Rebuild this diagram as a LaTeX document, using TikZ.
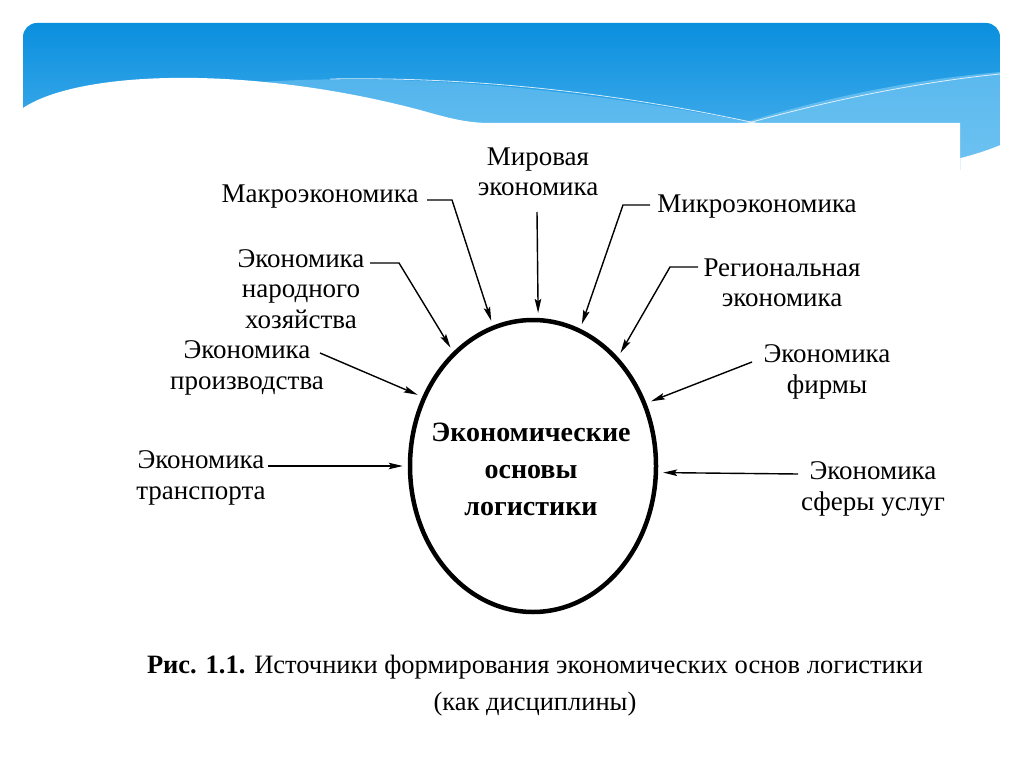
\documentclass[tikz,border=0pt]{standalone}
\usepackage{fontspec}
\setmainfont{Liberation Serif}
\usetikzlibrary{arrows.meta,shapes.geometric}
\definecolor{bTop}{RGB}{10,143,222}
\definecolor{bBot}{RGB}{80,180,238}
\definecolor{bLight}{RGB}{130,205,245}
\begin{document}
\begin{tikzpicture}[x=1pt,y=-1pt,
  lab/.style={font=\fontsize{27}{30.5}\selectfont, align=center, inner sep=1pt},
  arr/.style={line width=1.4pt, -{Stealth[length=14pt,width=6.5pt,inset=2.5pt]}, shorten >=5pt},
  wline/.style={white, opacity=0.8, line width=0.8pt}]
\useasboundingbox (0,0) rectangle (1024,767);
% header banner
\begin{scope}
\clip[rounded corners=14pt] (23,170) -- (23,23) -- (1000,23) [sharp corners] -- (1000,145) .. controls (985,151) and (972,155) .. (960,158) -- (960,170) -- cycle;
\shade[top color=bTop, bottom color=bBot] (23,23) rectangle (1000,170);
\fill[bLight, opacity=0.5] (260,82) .. controls (450,70) and (640,100) .. (780,128) -- (260,128) -- cycle;
\fill[bLight, opacity=0.6] (720,130) .. controls (820,98) and (910,80) .. (1000,72) -- (1000,170) -- (720,170) -- cycle;
\draw[wline] (330,79) .. controls (500,76) and (650,100) .. (760,124);
\draw[wline] (745,124) .. controls (830,100) and (920,82) .. (1000,74);
\fill[white] (23,108) .. controls (80,70) and (250,65) .. (420,110) .. controls (445,117) and (465,123) .. (490,123) -- (960,123) -- (960,170) -- (23,170) -- cycle;
\end{scope}
% central ellipse
\node[draw, ellipse, line width=4.5pt, minimum width=246pt, minimum height=292pt, inner sep=0pt] (E) at (533,466) {};
\node[font=\bfseries\fontsize{28}{37}\selectfont, align=center, inner sep=0pt] (Etxt) at (531,469) {Экономические\\основы\\логистики};
% labels
\node[lab] (mir) at (538,172) {Мировая\\экономика};
\node[lab] (makro) at (320,197) {Макроэкономика};
\node[lab] (mikro) at (757,207) {Микроэкономика};
\node[lab] (nar) at (301,289) {Экономика\\народного\\хозяйства};
\node[lab] (reg) at (782,283) {Региональная\\экономика};
\node[lab] (proiz) at (247,368) {Экономика\\производства};
\node[lab] (firm) at (827,372) {Экономика\\фирмы};
\node[lab] (trans) at (201,478) {Экономика\\транспорта};
\node[lab] (usl) at (873,489) {Экономика\\сферы услуг};
% arrow start points
\coordinate (sMir) at (537,212);
\coordinate (sMakro) at (427,200);
\coordinate (sMikro) at (650,205);
\coordinate (sNar) at (370,263);
\coordinate (sReg) at (698,267);
\coordinate (sProiz) at (320,353);
\coordinate (sFirm) at (752,362);
\coordinate (sTrans) at (268,466);
\coordinate (sUsl) at (798,474);
% arrows
\draw[arr] (sMir) -- (E.88.5);
\draw[arr] (sMakro) -- ++(25,0) -- (E.106);
\draw[arr] (sMikro) -- ++(-27,0) -- (E.71);
\draw[arr] (sNar) -- ++(29,0) -- (E.125.5);
\draw[arr] (sReg) -- ++(-28,0) -- (E.52);
\draw[arr] (sProiz) -- (E.148);
\draw[arr] (sFirm) -- (E.29);
\draw[arr] (sTrans) -- (E.180);
\draw[arr] (sUsl) -- (E.-3.4);
% caption
\node[font=\fontsize{26.5}{37}\selectfont, align=center] (cap) at (535,686)
  {\textbf{Рис. 1.1.} Источники формирования экономических основ логистики\\(как дисциплины)};
\end{tikzpicture}
\end{document}
